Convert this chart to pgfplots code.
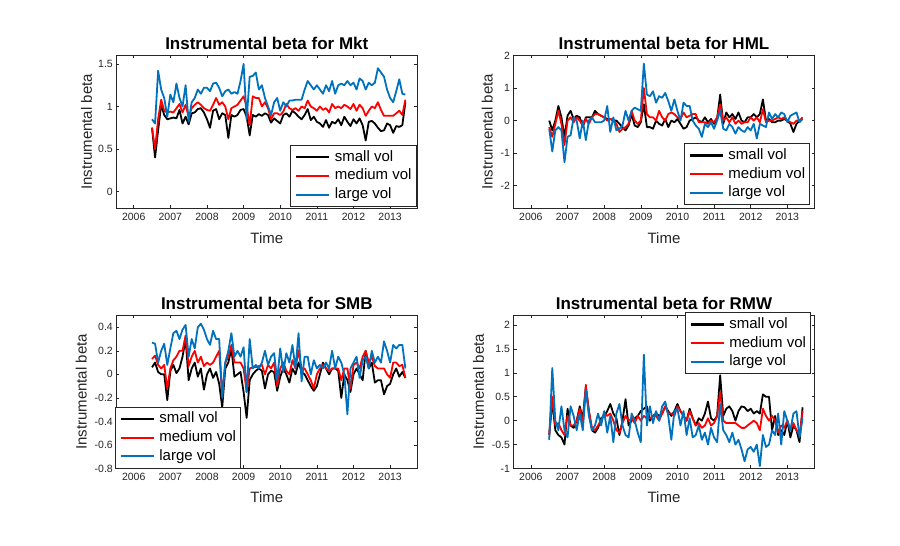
\documentclass[border=0pt]{standalone}
\usepackage{fontspec}
\setmainfont{Liberation Sans}
\usepackage{pgfplots}
\pgfplotsset{compat=1.18}
\definecolor{mblue}{rgb}{0,0.447,0.741}
\definecolor{axgray}{rgb}{0.15,0.15,0.15}
\pgfplotsset{
  mstyle/.style={
    scale only axis, width=301pt, height=153pt,
    anchor=south west,
    xmin=-11.7, xmax=86.9,
    xtick={-6,6,18,30,42,54,66,78},
    xticklabels={2006,2007,2008,2009,2010,2011,2012,2013},
    tick align=inside, major tick length=3pt,
    axis line style={axgray, line width=0.6pt},
    every tick/.style={axgray, line width=0.6pt},
    tick label style={font=\fontsize{10.5}{12}\selectfont, text=axgray},
    /pgf/number format/assume math mode=true,
    xticklabel style={anchor=base, yshift=-12.5pt},
    title style={font=\bfseries\fontsize{17}{20}\selectfont, at={(axis description cs:0.5,1)}, anchor=base},
    xlabel style={font=\fontsize{15}{18}\selectfont, anchor=base, text=axgray},
    ylabel style={font=\fontsize{15}{18}\selectfont, anchor=base, text=axgray},
    xlabel={Time}, ylabel={Instrumental beta},
    legend cell align=left,
    legend style={draw=axgray, line width=0.6pt, fill=white,
      font=\fontsize{15}{18}\selectfont,
      inner xsep=4.5pt, inner ysep=4.8pt, row sep=4.7pt, column sep=4.7pt,
      nodes={inner sep=0pt, text height=11pt, text depth=3pt}},
    legend image code/.code={\draw[#1,line width=2.1pt] (0pt,0pt) -- (33pt,0pt);},
    every axis plot/.append style={line width=1.8pt, line join=round},
  },
  table/tabopt/.style={x expr=\coordindex, y=v, row sep=\\},
}
\begin{document}
\begin{tikzpicture}
\fill[white] (0,0) rectangle (900pt,546pt);
\useasboundingbox (0,0) rectangle (900pt,546pt);

% ---------------- Mkt ----------------
\begin{axis}[mstyle, at={(116.3pt,337.5pt)},
  ymin=-0.2, ymax=1.6, ytick={0,0.5,1,1.5},
  title={Instrumental beta for Mkt},
  xlabel style={at={(axis description cs:0.5,-0.2288)}},
  ylabel style={at={(axis description cs:-0.0814,0.5)}},
  legend style={at={(0.997,0.012)}, anchor=south east}]
\addplot[black] table[tabopt] {v\\ 0.75\\0.40\\0.72\\1.02\\0.90\\0.85\\0.86\\0.87\\0.86\\0.96\\0.80\\0.88\\0.79\\0.92\\0.93\\0.97\\0.98\\0.93\\0.85\\0.75\\0.95\\0.97\\0.85\\0.92\\0.90\\0.63\\0.90\\0.88\\0.90\\0.96\\0.97\\0.88\\0.66\\0.90\\0.88\\0.91\\0.89\\0.92\\0.90\\0.81\\0.86\\0.83\\0.80\\0.90\\0.92\\0.88\\0.95\\0.92\\0.88\\0.85\\0.90\\0.97\\0.84\\0.88\\0.82\\0.80\\0.76\\0.84\\0.75\\0.82\\0.80\\0.85\\0.78\\0.88\\0.82\\0.77\\0.85\\0.80\\0.86\\0.78\\0.60\\0.82\\0.83\\0.80\\0.75\\0.71\\0.72\\0.80\\0.78\\0.69\\0.77\\0.76\\0.78\\1.05\\};
\addlegendentry{small vol}
\addplot[red] table[tabopt] {v\\ 0.75\\0.50\\0.85\\1.08\\0.95\\0.93\\0.94\\0.93\\0.98\\1.03\\0.93\\1.02\\0.88\\0.98\\1.02\\1.05\\1.02\\0.98\\0.96\\0.95\\1.02\\1.10\\1.02\\1.05\\1.00\\0.85\\0.98\\1.00\\1.02\\1.07\\1.12\\1.00\\0.78\\1.12\\1.10\\1.10\\1.00\\1.05\\0.98\\0.85\\0.92\\0.92\\0.90\\0.94\\1.03\\0.98\\0.96\\0.98\\0.95\\1.00\\0.98\\1.07\\1.00\\0.98\\0.95\\1.00\\0.96\\0.98\\0.93\\1.03\\0.98\\1.00\\0.98\\1.02\\1.00\\0.97\\1.03\\0.95\\1.02\\0.98\\0.89\\0.95\\1.00\\0.98\\1.05\\0.96\\0.89\\0.89\\0.89\\0.89\\0.92\\0.95\\0.90\\1.08\\};
\addlegendentry{medium vol}
\addplot[mblue] table[tabopt] {v\\ 0.85\\0.80\\1.42\\1.20\\1.10\\0.88\\1.14\\1.05\\1.27\\1.10\\1.00\\1.25\\0.82\\1.05\\1.10\\1.20\\1.15\\1.22\\1.22\\1.18\\1.27\\1.28\\1.22\\1.12\\1.18\\1.20\\1.15\\1.17\\1.15\\1.30\\1.50\\0.85\\1.35\\1.36\\1.40\\1.20\\1.25\\1.10\\1.00\\0.90\\1.05\\1.10\\0.95\\1.05\\1.00\\1.07\\1.07\\1.08\\1.08\\1.08\\1.20\\1.30\\1.25\\1.20\\1.25\\1.20\\1.15\\1.25\\1.18\\1.30\\1.15\\1.25\\1.27\\1.25\\1.30\\1.25\\1.28\\1.20\\1.33\\1.30\\1.20\\1.28\\1.25\\1.28\\1.45\\1.40\\1.35\\1.20\\1.10\\1.05\\1.18\\1.32\\1.15\\1.14\\};
\addlegendentry{large vol}
\end{axis}

% ---------------- HML ----------------
\begin{axis}[mstyle, at={(513.5pt,337.5pt)},
  ymin=-2.7, ymax=2, ytick={-2,-1,0,1,2},
  title={Instrumental beta for HML},
  xlabel style={at={(axis description cs:0.5,-0.2288)}},
  ylabel style={at={(axis description cs:-0.0691,0.5)}},
  legend style={at={(0.985,0.023)}, anchor=south east}]
\addplot[black] table[tabopt] {v\\ 0.0\\-0.3\\0.0\\0.45\\0.1\\-0.5\\0.15\\0.3\\0.05\\0.15\\0.1\\-0.2\\0.1\\0.1\\0.1\\0.3\\0.2\\0.15\\0.1\\0.05\\0.05\\0.0\\0.0\\-0.1\\-0.2\\-0.3\\-0.15\\0.2\\-0.15\\-0.2\\-0.05\\0.5\\-0.2\\-0.2\\-0.25\\0.0\\-0.1\\-0.15\\0.05\\-0.2\\0.0\\-0.05\\0.05\\-0.1\\-0.25\\-0.2\\0.0\\0.05\\0.1\\0.0\\-0.05\\0.1\\-0.05\\0.05\\-0.1\\0.05\\0.8\\-0.1\\0.25\\0.1\\0.2\\0.05\\0.25\\0.0\\-0.05\\0.1\\0.1\\0.2\\0.1\\0.2\\0.65\\0.0\\0.05\\-0.05\\-0.05\\0.0\\0.0\\0.05\\0.0\\-0.1\\-0.35\\-0.1\\0.0\\0.05\\};
\addlegendentry{small vol}
\addplot[red] table[tabopt] {v\\ -0.2\\-0.5\\-0.1\\0.3\\-0.1\\-0.75\\0.0\\0.1\\-0.05\\0.1\\0.0\\-0.15\\0.05\\-0.1\\0.1\\0.2\\0.2\\0.15\\0.1\\0.0\\0.05\\0.0\\-0.1\\-0.35\\-0.25\\-0.2\\-0.1\\0.3\\0.0\\-0.1\\0.0\\1.0\\0.2\\0.1\\0.1\\0.0\\0.3\\0.1\\0.0\\0.2\\0.25\\0.2\\0.1\\0.05\\0.25\\0.1\\0.15\\0.2\\0.2\\-0.05\\-0.05\\-0.05\\-0.1\\0.0\\-0.05\\0.1\\0.5\\0.0\\0.1\\-0.05\\0.1\\-0.1\\0.0\\-0.1\\-0.05\\-0.05\\0.1\\0.0\\0.1\\-0.05\\0.35\\-0.05\\0.0\\0.0\\0.05\\0.1\\0.05\\0.1\\0.0\\-0.05\\-0.1\\0.0\\0.0\\0.1\\};
\addlegendentry{medium vol}
\addplot[mblue] table[tabopt] {v\\ -0.25\\-0.95\\-0.3\\-0.2\\-0.3\\-1.28\\-0.5\\-0.45\\0.1\\0.0\\-0.55\\0.0\\-0.6\\0.0\\0.1\\-0.05\\-0.05\\-0.05\\0.0\\0.45\\-0.35\\0.1\\-0.3\\-0.25\\-0.15\\0.3\\0.0\\0.3\\0.4\\0.35\\0.3\\1.75\\0.8\\0.75\\0.9\\0.55\\0.75\\0.7\\0.85\\0.6\\0.3\\0.65\\0.3\\0.0\\0.55\\0.45\\0.45\\0.0\\-0.15\\-0.25\\-0.5\\-0.1\\-0.2\\-0.05\\-0.25\\0.0\\0.3\\-0.25\\-0.3\\-0.1\\-0.2\\-0.4\\-0.2\\-0.3\\-0.35\\-0.2\\-0.3\\-0.1\\-0.55\\-0.1\\-0.15\\-0.2\\0.25\\0.05\\0.2\\0.1\\0.25\\0.2\\-0.05\\0.15\\0.2\\0.25\\-0.05\\0.05\\};
\addlegendentry{large vol}
\end{axis}

% ---------------- SMB ----------------
\begin{axis}[mstyle, at={(116.3pt,77.5pt)},
  ymin=-0.8, ymax=0.5, ytick={-0.8,-0.6,-0.4,-0.2,0,0.2,0.4},
  title={Instrumental beta for SMB},
  xlabel style={at={(axis description cs:0.5,-0.219)}},
  ylabel style={at={(axis description cs:-0.0983,0.5)}},
  legend style={at={(-0.005,0)}, anchor=south west}]
\addplot[black] table[tabopt] {v\\ 0.06\\0.10\\0.02\\0.00\\0.00\\-0.22\\0.03\\0.08\\0.01\\0.05\\0.15\\0.30\\-0.05\\0.05\\0.10\\-0.02\\0.05\\-0.13\\0.00\\0.05\\-0.03\\0.02\\-0.08\\-0.28\\0.05\\0.10\\0.22\\-0.02\\0.00\\0.02\\-0.15\\-0.37\\-0.05\\0.00\\0.03\\0.05\\0.03\\-0.12\\0.00\\0.03\\0.02\\-0.14\\-0.02\\0.05\\0.00\\-0.07\\0.05\\0.00\\0.10\\0.02\\0.00\\-0.05\\-0.10\\-0.14\\-0.10\\0.00\\0.10\\0.05\\0.00\\0.05\\0.05\\0.03\\-0.20\\0.00\\-0.05\\-0.15\\0.00\\0.05\\0.00\\-0.05\\0.20\\0.05\\0.10\\-0.07\\-0.05\\-0.05\\-0.17\\-0.10\\-0.08\\0.00\\0.05\\-0.02\\0.02\\-0.03\\};
\addlegendentry{small vol}
\addplot[red] table[tabopt] {v\\ 0.13\\0.16\\0.08\\0.05\\0.08\\-0.12\\0.05\\0.12\\0.15\\0.20\\0.20\\0.33\\0.07\\0.15\\0.20\\0.10\\0.15\\0.07\\0.10\\0.08\\0.10\\0.15\\0.20\\-0.18\\0.10\\0.15\\0.25\\0.10\\0.10\\0.10\\0.05\\-0.15\\0.05\\0.06\\0.06\\0.07\\0.08\\0.00\\0.08\\0.05\\0.10\\-0.10\\0.05\\0.10\\0.03\\0.00\\0.12\\0.05\\0.20\\0.05\\0.05\\0.00\\-0.05\\-0.12\\0.00\\0.05\\0.08\\0.05\\0.03\\0.05\\0.05\\0.05\\-0.05\\0.05\\0.05\\-0.12\\0.08\\0.10\\0.05\\0.15\\0.20\\0.10\\0.15\\0.07\\0.05\\0.05\\0.05\\0.00\\-0.03\\0.10\\0.10\\0.07\\0.08\\-0.03\\};
\addlegendentry{medium vol}
\addplot[mblue] table[tabopt] {v\\ 0.27\\0.26\\0.10\\0.20\\0.26\\0.08\\0.22\\0.35\\0.37\\0.30\\0.38\\0.42\\0.15\\0.30\\0.22\\0.40\\0.43\\0.38\\0.30\\0.25\\0.37\\0.30\\0.30\\-0.20\\0.10\\0.20\\0.35\\0.15\\0.20\\0.15\\0.23\\-0.15\\0.30\\0.05\\0.08\\0.05\\0.10\\0.20\\0.08\\0.15\\0.18\\-0.05\\0.22\\0.02\\0.18\\0.10\\0.25\\0.05\\0.35\\-0.06\\0.15\\0.15\\0.00\\0.12\\0.05\\0.08\\0.05\\0.10\\0.05\\0.20\\0.05\\0.15\\0.10\\0.00\\-0.34\\0.05\\0.10\\0.15\\-0.03\\0.12\\0.15\\0.05\\0.20\\0.10\\0.15\\0.10\\0.28\\0.20\\0.10\\0.25\\0.22\\0.25\\0.25\\0.05\\};
\addlegendentry{large vol}
\end{axis}

% ---------------- RMW ----------------
\begin{axis}[mstyle, at={(513.5pt,77.5pt)},
  ymin=-1, ymax=2.2, ytick={-1,-0.5,0,0.5,1,1.5,2},
  title={Instrumental beta for RMW},
  xlabel style={at={(axis description cs:0.5,-0.219)}},
  ylabel style={at={(axis description cs:-0.0983,0.5)}},
  legend style={at={(0.988,1.02)}, anchor=north east}]
\addplot[black] table[tabopt] {v\\ -0.30\\0.40\\-0.20\\-0.30\\-0.35\\-0.50\\0.25\\-0.10\\-0.15\\0.00\\0.30\\0.05\\0.70\\0.20\\-0.20\\-0.25\\-0.15\\0.05\\0.10\\0.20\\0.35\\0.15\\0.05\\-0.30\\0.00\\0.45\\-0.10\\0.00\\0.05\\0.10\\0.20\\0.25\\0.30\\0.00\\0.10\\0.15\\0.10\\0.15\\0.30\\0.20\\0.10\\0.20\\0.35\\0.20\\0.10\\0.00\\0.25\\0.05\\-0.10\\0.05\\0.00\\0.15\\0.40\\0.05\\0.00\\0.10\\0.95\\0.10\\0.25\\0.30\\0.20\\0.00\\0.20\\0.30\\0.28\\0.20\\0.25\\0.15\\0.20\\0.15\\0.55\\0.50\\0.50\\-0.20\\0.10\\-0.30\\-0.20\\-0.30\\0.00\\-0.35\\-0.10\\-0.20\\-0.45\\0.28\\};
\addlegendentry{small vol}
\addplot[red] table[tabopt] {v\\ -0.30\\0.50\\-0.10\\-0.05\\-0.20\\-0.30\\0.10\\-0.10\\-0.10\\0.00\\0.25\\-0.05\\0.75\\0.20\\-0.15\\-0.20\\-0.10\\0.00\\0.15\\0.10\\0.15\\0.00\\-0.20\\-0.25\\-0.05\\0.10\\0.00\\0.05\\-0.05\\0.10\\0.00\\0.10\\0.05\\0.05\\0.10\\0.10\\0.00\\0.15\\0.30\\0.15\\0.15\\0.10\\0.30\\0.20\\0.10\\0.00\\0.20\\0.05\\-0.10\\-0.05\\-0.15\\-0.10\\0.05\\-0.10\\-0.05\\0.10\\0.60\\0.00\\-0.05\\-0.05\\-0.05\\-0.05\\-0.10\\-0.15\\-0.15\\-0.10\\-0.05\\0.00\\-0.05\\-0.20\\0.25\\0.10\\0.00\\0.10\\0.00\\-0.25\\-0.10\\-0.15\\0.00\\-0.20\\-0.05\\-0.20\\-0.30\\0.20\\};
\addlegendentry{medium vol}
\addplot[mblue] table[tabopt] {v\\ -0.40\\1.10\\0.00\\-0.20\\0.30\\-0.20\\-0.35\\0.30\\0.10\\-0.20\\0.15\\-0.20\\0.65\\0.10\\-0.20\\-0.10\\0.15\\-0.10\\0.20\\-0.25\\0.10\\-0.45\\0.15\\0.35\\-0.10\\-0.30\\-0.35\\0.15\\0.00\\-0.25\\-0.45\\1.38\\-0.10\\0.30\\-0.05\\0.20\\0.00\\0.30\\0.40\\0.10\\-0.40\\0.20\\0.25\\-0.10\\0.20\\-0.30\\0.05\\-0.35\\-0.30\\-0.10\\-0.40\\-0.25\\-0.50\\-0.15\\-0.35\\-0.45\\0.35\\-0.20\\-0.30\\-0.45\\-0.25\\-0.50\\-0.40\\-0.60\\-0.85\\-0.60\\-0.55\\-0.65\\-0.50\\-0.95\\-0.30\\-0.55\\-0.50\\-0.20\\-0.30\\0.15\\-0.50\\0.20\\0.00\\-0.20\\0.15\\0.20\\-0.35\\0.05\\};
\addlegendentry{large vol}
\end{axis}
\end{tikzpicture}
\end{document}
